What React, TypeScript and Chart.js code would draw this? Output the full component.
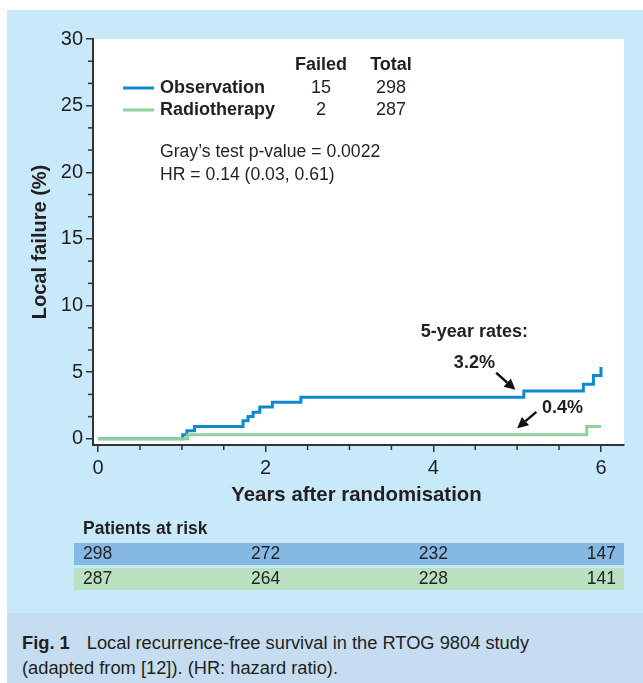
import React, { useEffect, useRef } from "react";
import { Chart, registerables } from "chart.js";

Chart.register(...registerables);

// ---- data ----
const observationTimes = [0, 1.01, 1.06, 1.15, 1.73, 1.79, 1.85, 1.93, 2.08, 2.42, 5.08, 5.79, 5.91, 6.0];
const observationFailure = [0, 0.3, 0.6, 0.92, 1.35, 1.68, 2.0, 2.4, 2.75, 3.12, 3.6, 4.1, 4.76, 5.4];
const radiotherapyTimes = [0, 1.07, 5.83, 6.0];
const radiotherapyFailure = [0, 0.3, 0.92, 0.92];

const groupNames = ["Observation", "Radiotherapy"];
const groupFailed = [15, 2];
const groupTotal = [298, 287];

const atRiskTimes = [0, 2, 4, 6];
const atRiskObservation = [298, 272, 232, 147];
const atRiskRadiotherapy = [287, 264, 228, 141];

const xTickValues = [0, 0.5, 1, 1.5, 2, 2.5, 3, 3.5, 4, 4.5, 5, 5.5, 6];
const xLabelValues = [0, 2, 4, 6];
const yLabelValues = [0, 5, 10, 15, 20, 25, 30];
const yMinorPerMajor = 3;

const fiveYearRates = ["3.2%", "0.4%"];

// ---- style ----
const FONT = '"Liberation Sans", Arial, sans-serif';
const TEXT = "#231f20";
const BLUE = "#0d89d1";
const GREEN = "#8fd09c";
const AXIS = "#333333";

const W = 636;
const H = 603;

const isLabelY = (n: number) => yLabelValues.some((m) => Math.abs(m - n) < 1e-6);
const isLabelX = (n: number) => xLabelValues.some((m) => Math.abs(m - n) < 1e-6);

function drawArrow(ctx: CanvasRenderingContext2D, x1: number, y1: number, x2: number, y2: number) {
  const ang = Math.atan2(y2 - y1, x2 - x1);
  const head = 11;
  const half = 5.5;
  const bx = x2 - head * Math.cos(ang);
  const by = y2 - head * Math.sin(ang);
  ctx.save();
  ctx.strokeStyle = "#111";
  ctx.fillStyle = "#111";
  ctx.lineWidth = 2.4;
  ctx.beginPath();
  ctx.moveTo(x1, y1);
  ctx.lineTo(bx, by);
  ctx.stroke();
  ctx.beginPath();
  ctx.moveTo(x2, y2);
  ctx.lineTo(bx + half * Math.sin(ang), by - half * Math.cos(ang));
  ctx.lineTo(bx - half * Math.sin(ang), by + half * Math.cos(ang));
  ctx.closePath();
  ctx.fill();
  ctx.restore();
}

const decorPlugin = {
  id: "decor",
  beforeDraw(chart: any) {
    const { ctx, chartArea } = chart;
    ctx.save();
    ctx.fillStyle = "#ffffff";
    ctx.fillRect(chartArea.left, chartArea.top, chartArea.right - chartArea.left, chartArea.bottom - chartArea.top);
    ctx.restore();
  },
  afterDraw(chart: any) {
    const { ctx, chartArea } = chart;
    const xs = chart.scales.x;
    const ys = chart.scales.y;
    const L = chartArea.left;
    ctx.save();

    // minor ticks
    ctx.strokeStyle = AXIS;
    ctx.lineWidth = 1.5;
    xs.ticks.forEach((t: any) => {
      if (isLabelX(t.value)) return;
      const px = xs.getPixelForValue(t.value);
      ctx.beginPath();
      ctx.moveTo(px, chartArea.bottom + 1);
      ctx.lineTo(px, chartArea.bottom + 5);
      ctx.stroke();
    });
    ys.ticks.forEach((t: any) => {
      if (isLabelY(t.value)) return;
      const py = ys.getPixelForValue(t.value);
      ctx.beginPath();
      ctx.moveTo(chartArea.left - 1, py);
      ctx.lineTo(chartArea.left - 5, py);
      ctx.stroke();
    });

    ctx.fillStyle = TEXT;
    ctx.textBaseline = "middle";

    // legend block
    const colCenters = [L + 228, L + 298];
    ctx.font = `bold 18px ${FONT}`;
    ctx.textAlign = "center";
    ctx.fillText("Failed", colCenters[0], 55);
    ctx.fillText("Total", colCenters[1], 55);
    const colors = [BLUE, GREEN];
    groupNames.forEach((name, i) => {
      const y = 78 + i * 22;
      ctx.strokeStyle = colors[i];
      ctx.lineWidth = 3;
      ctx.beginPath();
      ctx.moveTo(L + 30, y);
      ctx.lineTo(L + 61, y);
      ctx.stroke();
      ctx.font = `bold 18px ${FONT}`;
      ctx.textAlign = "left";
      ctx.fillText(name, L + 67, y);
      ctx.font = `18px ${FONT}`;
      ctx.textAlign = "center";
      ctx.fillText(String(groupFailed[i]), colCenters[0], y);
      ctx.fillText(String(groupTotal[i]), colCenters[1], y);
    });
    ctx.font = `17.6px ${FONT}`;
    ctx.textAlign = "left";
    ctx.fillText("Gray\u2019s test p-value = 0.0022", L + 67, 142);
    ctx.fillText("HR = 0.14 (0.03, 0.61)", L + 67, 165);

    // 5-year rate annotations
    ctx.font = `bold 18px ${FONT}`;
    ctx.textAlign = "center";
    ctx.fillText("5-year rates:", xs.getPixelForValue(4.49), ys.getPixelForValue(8.05));
    ctx.fillText(fiveYearRates[0], xs.getPixelForValue(4.49), ys.getPixelForValue(5.7));
    ctx.fillText(fiveYearRates[1], xs.getPixelForValue(5.54), ys.getPixelForValue(2.33));
    drawArrow(ctx, xs.getPixelForValue(4.75), ys.getPixelForValue(4.96), xs.getPixelForValue(4.98), ys.getPixelForValue(3.68));
    drawArrow(ctx, xs.getPixelForValue(5.23), ys.getPixelForValue(2.03), xs.getPixelForValue(5.0), ys.getPixelForValue(0.79));

    // axis titles
    ctx.font = `bold 20.4px ${FONT}`;
    ctx.textAlign = "center";
    ctx.fillText("Years after randomisation", (chartArea.left + chartArea.right) / 2 - 2, chartArea.bottom + 50);
    ctx.save();
    ctx.translate(33, (chartArea.top + chartArea.bottom) / 2);
    ctx.rotate(-Math.PI / 2);
    ctx.font = `bold 20px ${FONT}`;
    ctx.fillText("Local failure (%)", 0, 0);
    ctx.restore();

    // patients at risk
    ctx.font = `bold 17.5px ${FONT}`;
    ctx.textAlign = "left";
    ctx.fillText("Patients at risk", L - 10, chartArea.bottom + 84);
    const rowLeft = L - 19;
    const rowRight = chartArea.right;
    const rows = [atRiskObservation, atRiskRadiotherapy];
    const rowColors = ["#85b8e3", "#b9e0bf"];
    rows.forEach((vals, r) => {
      const top = chartArea.bottom + 98 + r * 25;
      ctx.fillStyle = rowColors[r];
      ctx.fillRect(rowLeft, top, rowRight - rowLeft, 22);
      ctx.fillStyle = TEXT;
      ctx.font = `17.5px ${FONT}`;
      vals.forEach((v, i) => {
        const cy = top + 11;
        if (i === 0) {
          ctx.textAlign = "left";
          ctx.fillText(String(v), rowLeft + 9, cy);
        } else if (i === vals.length - 1) {
          ctx.textAlign = "right";
          ctx.fillText(String(v), rowRight - 8, cy);
        } else {
          ctx.textAlign = "center";
          ctx.fillText(String(v), xs.getPixelForValue(atRiskTimes[i]), cy);
        }
      });
    });
    ctx.restore();
  },
};

export default function App() {
  const ref = useRef<HTMLCanvasElement | null>(null);

  useEffect(() => {
    if (!ref.current) return;
    Chart.defaults.font.family = FONT;
    const yTicks: number[] = [];
    for (let i = 0; i < yLabelValues.length - 1; i++) {
      for (let k = 0; k < yMinorPerMajor; k++) {
        yTicks.push(yLabelValues[i] + ((yLabelValues[i + 1] - yLabelValues[i]) * k) / yMinorPerMajor);
      }
    }
    yTicks.push(yLabelValues[yLabelValues.length - 1]);

    const majorTickColor = (c: any, check: (n: number) => boolean) =>
      c.tick && check(c.tick.value) ? AXIS : "rgba(0,0,0,0)";

    const chart = new Chart(ref.current, {
      type: "line",
      data: {
        datasets: [
          {
            label: groupNames[1],
            data: radiotherapyTimes.map((t, i) => ({ x: t, y: radiotherapyFailure[i] })),
            borderColor: GREEN,
            borderWidth: 3,
            pointRadius: 0,
            stepped: "before",
            fill: false,
            order: 0,
          },
          {
            label: groupNames[0],
            data: observationTimes.map((t, i) => ({ x: t, y: observationFailure[i] })),
            borderColor: BLUE,
            borderWidth: 3,
            pointRadius: 0,
            stepped: "before",
            fill: false,
            order: 1,
          },
        ],
      },
      options: {
        responsive: false,
        animation: false,
        layout: { padding: { top: 29, right: 19, left: 0, bottom: 0 } },
        plugins: {
          legend: { display: false },
          tooltip: { enabled: false },
          title: { display: false },
        },
        scales: {
          x: {
            type: "linear",
            min: -0.06,
            max: 6.275,
            afterBuildTicks: (s: any) => {
              s.ticks = xTickValues.map((v) => ({ value: v }));
            },
            afterFit: (s: any) => {
              s.height = 168;
            },
            ticks: {
              autoSkip: false,
              maxRotation: 0,
              padding: 4,
              color: TEXT,
              font: { size: 20, family: FONT },
              callback: (v: any) => (isLabelX(Number(v)) ? String(v) : ""),
            },
            grid: {
              drawOnChartArea: false,
              drawTicks: true,
              tickLength: 7,
              color: AXIS,
              lineWidth: 1.5,
              tickColor: (c: any) => majorTickColor(c, isLabelX),
            },
            border: { display: true, color: AXIS, width: 2 },
          },
          y: {
            type: "linear",
            min: -0.46,
            max: 30,
            afterBuildTicks: (s: any) => {
              s.ticks = yTicks.map((v) => ({ value: v }));
            },
            afterFit: (s: any) => {
              s.width = 86;
            },
            ticks: {
              autoSkip: false,
              padding: 3,
              color: TEXT,
              font: { size: 20, family: FONT },
              callback: (v: any) => {
                const n = Number(v);
                return isLabelY(n) ? String(Math.round(n)) : "";
              },
            },
            grid: {
              drawOnChartArea: false,
              drawTicks: true,
              tickLength: 7,
              color: AXIS,
              lineWidth: 1.5,
              tickColor: (c: any) => majorTickColor(c, isLabelY),
            },
            border: { display: true, color: AXIS, width: 2 },
          },
        },
      },
      plugins: [decorPlugin],
    } as any);
    return () => chart.destroy();
  }, []);

  return (
    <div style={{ position: "absolute", left: 0, top: 0, width: 643, height: 683, background: "#fff", overflow: "hidden" }}>
      <div style={{ position: "absolute", left: 7, top: 10, width: W, height: H, background: "#c8e9f9" }}>
        <canvas ref={ref} width={W} height={H} style={{ display: "block", width: W, height: H }} />
      </div>
      <div
        style={{
          position: "absolute",
          left: 7,
          top: 613,
          width: W,
          height: 70,
          background: "#c6dcf1",
          boxSizing: "border-box",
          padding: "17px 0 0 15px",
          fontFamily: FONT,
          fontSize: 18.3,
          lineHeight: "25px",
          color: TEXT,
        }}
      >
        <div>
          <b>Fig. 1</b>
          <span style={{ marginLeft: 17 }}>Local recurrence-free survival in the RTOG 9804 study</span>
        </div>
        <div>(adapted from [12]). (HR: hazard ratio).</div>
      </div>
    </div>
  );
}
